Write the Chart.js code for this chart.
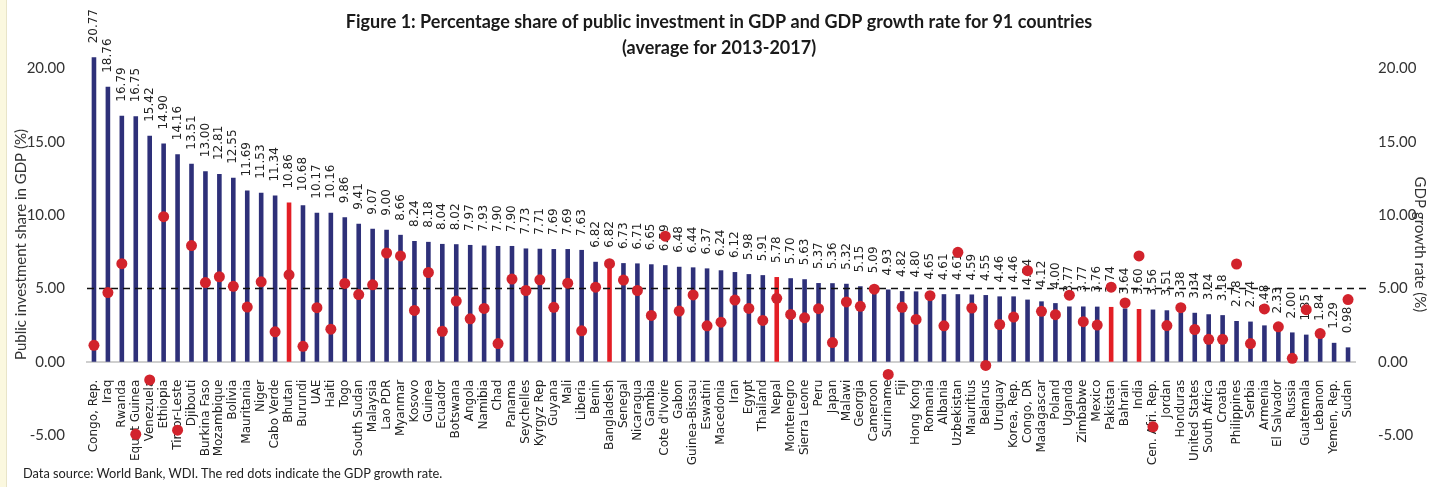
<!DOCTYPE html>
<html>
<head>
<meta charset="utf-8">
<title>Public investment and GDP growth</title>
<script src="https://cdn.jsdelivr.net/npm/chart.js@4.4.0/dist/chart.umd.min.js"></script>
<style>
  html, body { margin: 0; padding: 0; background: #fff; }
  #wrap { position: relative; width: 1430px; height: 487px; }
  #edge { position: absolute; left: 0; top: 0; width: 6px; height: 487px; background: #fbf8df; border-right: 1px solid #e8e4c8; }
  #note { position: absolute; left: 23px; top: 465px; font: 12.8px Lato, sans-serif; color: #222; white-space: nowrap; }
</style>
</head>
<body>
<div id="wrap">
  <canvas id="chart" width="1430" height="487"></canvas>
  <div id="edge"></div>
  <div id="note">Data source: World Bank, WDI. The red dots indicate the GDP growth rate.</div>
</div>
<script>
const countries = ['Congo, Rep.','Iraq','Rwanda','Equat Guinea','Venezuela','Ethiopia','Timor-Leste','Djibouti','Burkina Faso','Mozambique',
  'Bolivia','Mauritania','Niger','Cabo Verde','Bhutan','Burundi','UAE','Haiti','Togo','South Sudan',
  'Malaysia','Lao PDR','Myanmar','Kosovo','Guinea','Ecuador','Botswana','Angola','Namibia','Chad',
  'Panama','Seychelles','Kyrgyz Rep','Guyana','Mali','Liberia','Benin','Bangladesh','Senegal','Nicaragua',
  'Gambia',"Cote d'Ivoire",'Gabon','Guinea-Bissau','Eswatini','Macedonia','Iran','Egypt','Thailand','Nepal',
  'Montenegro','Sierra Leone','Peru','Japan','Malawi','Georgia','Cameroon','Suriname','Fiji','Hong Kong',
  'Romania','Albania','Uzbekistan','Mauritius','Belarus','Uruguay','Korea, Rep.','Congo, DR','Madagascar','Poland',
  'Uganda','Zimbabwe','Mexico','Pakistan','Bahrain','India','Cen. Afri. Rep.','Jordan','Honduras','United States',
  'South Africa','Croatia','Philippines','Serbia','Armenia','El Salvador','Russia','Guatemala','Lebanon','Yemen, Rep.',
  'Sudan'];

// public investment, % of GDP (bars)
const investShare = [20.77,18.76,16.79,16.75,15.42,14.90,14.16,13.51,13.00,12.81,
  12.55,11.69,11.53,11.34,10.86,10.68,10.17,10.16,9.86,9.41,
  9.07,9.00,8.66,8.24,8.18,8.04,8.02,7.97,7.93,7.90,
  7.90,7.73,7.71,7.69,7.69,7.63,6.82,6.82,6.73,6.71,
  6.65,6.59,6.48,6.44,6.37,6.24,6.12,5.98,5.91,5.78,
  5.70,5.63,5.37,5.36,5.32,5.15,5.09,4.93,4.82,4.80,
  4.65,4.61,4.61,4.59,4.55,4.46,4.46,4.24,4.12,4.00,
  3.77,3.77,3.76,3.74,3.64,3.60,3.56,3.51,3.38,3.34,
  3.24,3.18,2.78,2.74,2.48,2.33,2.00,1.85,1.84,1.29,
  0.98];

// GDP growth rate, % (red dots)
const gdpGrowth = [1.12,4.72,6.69,-4.95,-1.24,9.90,-4.67,7.93,5.40,5.80,
  5.15,3.73,5.45,2.04,5.93,1.05,3.69,2.22,5.34,4.58,
  5.25,7.42,7.22,3.50,6.09,2.08,4.14,2.93,3.64,1.24,
  5.64,4.86,5.59,3.71,5.36,2.11,5.09,6.69,5.57,4.86,
  3.16,8.57,3.46,4.56,2.45,2.70,4.21,3.64,2.82,4.33,
  3.23,3.00,3.62,1.31,4.08,3.78,4.95,-0.87,3.71,2.89,
  4.51,2.45,7.47,3.66,-0.25,2.54,3.05,6.21,3.44,3.21,
  4.54,2.73,2.50,5.09,4.01,7.22,-4.44,2.47,3.69,2.20,
  1.53,1.53,6.67,1.24,3.60,2.38,0.23,3.55,1.92,null,
  4.24];

const highlighted = ['Bhutan','Bangladesh','Nepal','Pakistan','India'];
const tickValues = [-5, 0, 5, 10, 15, 20];
const referenceRate = 5;

const navy = '#2e3079';
const redBar = '#e31e25';
const dotRed = '#d2232c';

// dashed 5% line + rotated value labels, drawn right after the bars
const barLabels = {
  id: 'barLabels',
  afterDatasetDraw(chart, args) {
    if (args.index !== 0) return;
    const { ctx, chartArea } = chart;
    const yPos = chart.scales.y.getPixelForValue(referenceRate);
    ctx.save();
    ctx.strokeStyle = '#111';
    ctx.lineWidth = 1.6;
    ctx.setLineDash([7, 5]);
    ctx.beginPath();
    ctx.moveTo(chartArea.left, yPos);
    ctx.lineTo(chartArea.right + 12, yPos);
    ctx.stroke();
    ctx.setLineDash([]);

    ctx.font = '12px "DejaVu Sans"';
    ctx.fillStyle = '#222';
    ctx.textAlign = 'left';
    ctx.textBaseline = 'middle';
    args.meta.data.forEach((bar, i) => {
      ctx.save();
      ctx.translate(bar.x, bar.y - 14);
      ctx.rotate(-Math.PI / 2);
      ctx.fillText(investShare[i].toFixed(2), 0, 0);
      ctx.restore();
    });
    ctx.restore();
  }
};

const fixTicks = s => { s.ticks = tickValues.map(v => ({ value: v })); };

new Chart(document.getElementById('chart'), {
  type: 'bar',
  data: {
    labels: countries,
    datasets: [{
      type: 'bar',
      label: 'Public investment share in GDP (%)',
      data: investShare,
      backgroundColor: countries.map(c => highlighted.includes(c) ? redBar : navy),
      barPercentage: 0.33,
      categoryPercentage: 1,
      yAxisID: 'y',
      order: 2
    }, {
      type: 'line',
      label: 'GDP growth rate (%)',
      data: gdpGrowth,
      showLine: false,
      pointRadius: 5.5,
      pointBorderWidth: 0,
      pointBackgroundColor: dotRed,
      yAxisID: 'y1',
      clip: false,
      order: 1
    }]
  },
  options: {
    responsive: false,
    animation: false,
    layout: { padding: { left: 8, right: 0, top: 0, bottom: 52 } },
    plugins: {
      legend: { display: false },
      tooltip: { enabled: false },
      title: {
        display: true,
        text: ['Figure 1: Percentage share of public investment in GDP and GDP growth rate for 91 countries',
               '(average for 2013-2017)'],
        color: '#1a1a1a',
        font: { family: 'Lato', weight: 'bold', size: 18, lineHeight: 1.4445 },
        padding: { top: 9, bottom: -7 }
      }
    },
    scales: {
      x: {
        position: { y: 0 },
        offset: true,
        grid: { display: false },
        border: { color: '#cfcfcf', width: 2 },
        ticks: {
          autoSkip: false,
          minRotation: 90,
          maxRotation: 90,
          padding: 10,
          color: '#222',
          font: { family: 'DejaVu Sans', size: 12 }
        }
      },
      y: {
        position: 'left',
        min: -5,
        max: 21,
        afterBuildTicks: fixTicks,
        afterFit: s => { s.width = 79; },
        grid: { display: false },
        border: { display: false },
        ticks: {
          padding: 14,
          color: '#333',
          font: { family: 'Lato', size: 15 },
          callback: v => v.toFixed(2)
        },
        title: {
          display: true,
          text: 'Public investment share in GDP (%)',
          color: '#333',
          font: { family: 'Lato', size: 15 },
          padding: { top: 4 }
        }
      },
      y1: {
        position: 'right',
        min: -5,
        max: 21,
        afterBuildTicks: fixTicks,
        afterFit: s => { s.width = 75; },
        grid: { display: false },
        border: { display: false },
        ticks: {
          padding: 15,
          crossAlign: 'near',
          color: '#333',
          font: { family: 'Lato', size: 15 },
          callback: v => v.toFixed(2)
        },
        title: {
          display: true,
          text: 'GDP growth rate (%)',
          color: '#333',
          font: { family: 'Lato', size: 15 },
          padding: { top: 1 }
        }
      }
    }
  },
  plugins: [barLabels]
});
</script>
</body>
</html>
